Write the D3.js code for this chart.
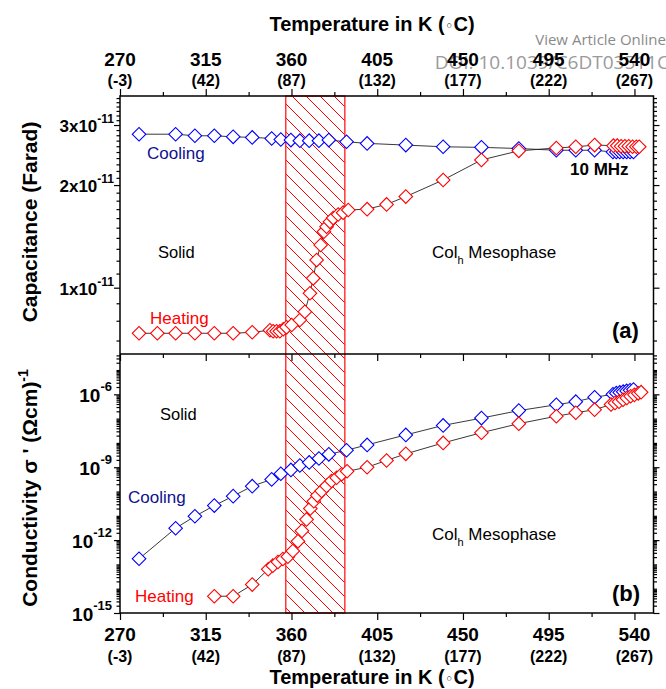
<!DOCTYPE html>
<html>
<head>
<meta charset="utf-8">
<script src="https://cdn.jsdelivr.net/npm/d3@7"></script>
<style>
  body { margin: 0; background: #fff; }
  text { font-family: "Liberation Sans", Arial, sans-serif; }
</style>
</head>
<body>
<div id="chart"></div>
<script>
// cooling run temperatures (K), same steps in both panels
const coolT = [280, 299.2, 309.3, 319.5, 329.4, 339.4, 349.6, 354.4, 359.7, 364.4, 369.3, 374.4, 379.6, 388.9,
    399.7, 420, 439.6, 459.7, 479.3, 499, 509.2, 519.1, 528.7, 530.5, 532.3, 534.1, 535.9, 537.7, 539.5];
// (a) capacitance, Farad
const capCool = [2.82e-11, 2.82e-11, 2.79e-11, 2.79e-11, 2.77e-11, 2.76e-11, 2.74e-11, 2.72e-11, 2.71e-11, 2.70e-11,
    2.70e-11, 2.70e-11, 2.71e-11, 2.68e-11, 2.65e-11, 2.62e-11, 2.59e-11, 2.58e-11, 2.56e-11, 2.53e-11, 2.53e-11,
    2.53e-11, 2.50e-11, 2.50e-11, 2.50e-11, 2.50e-11, 2.50e-11, 2.50e-11, 2.50e-11];
const heatTa = [280, 289.6, 299.2, 309.3, 319.5, 329.4, 339.4, 348.7, 350.4, 352.2, 353.9, 355.7, 357.4, 360.1,
    364.4, 367, 369.7, 371.4, 373.2, 375.3, 377, 378.4, 380.2, 381.9, 384.5, 387.1, 389.8,
    399.7, 409.9, 420, 439.6, 459.7, 479.3, 499, 509.2, 519.1, 529, 531, 533, 535, 537, 539, 541, 542.5];
const capHeat = [7.35e-12, 7.35e-12, 7.35e-12, 7.35e-12, 7.35e-12, 7.35e-12, 7.4e-12, 7.5e-12, 7.45e-12, 7.45e-12,
    7.45e-12, 7.55e-12, 7.65e-12, 7.77e-12, 8.04e-12, 8.5e-12, 9.63e-12, 1.065e-11, 1.205e-11, 1.334e-11, 1.46e-11,
    1.51e-11, 1.56e-11, 1.60e-11, 1.64e-11, 1.66e-11, 1.69e-11,
    1.70e-11, 1.755e-11, 1.85e-11, 2.07e-11, 2.37e-11, 2.52e-11, 2.57e-11, 2.59e-11, 2.62e-11,
    2.61e-11, 2.61e-11, 2.60e-11, 2.60e-11, 2.60e-11, 2.59e-11, 2.59e-11, 2.59e-11];
// (b) conductivity, (Ohm cm)^-1
const condCool = [1.70e-13, 3.09e-12, 9.55e-12, 2.63e-11, 6.46e-11, 1.66e-10, 3.16e-10, 5.37e-10, 7.76e-10, 1.17e-9,
    1.58e-9, 2.29e-9, 3.39e-9, 5.01e-9, 8.3e-9, 2.14e-8, 5.25e-8, 1.05e-7, 2.14e-7, 3.72e-7, 5.0e-7, 7.6e-7,
    1.0e-6, 1.12e-6, 1.2e-6, 1.29e-6, 1.38e-6, 1.48e-6, 1.58e-6];
const heatTb = [319.5, 329.4, 339.4, 347.8, 350.2, 352.9, 355.5, 358.1, 360.7, 363.4, 365.5, 367.9, 369.9, 371.7,
    373.6, 375.8, 378.4, 381, 383.7, 386.3, 389.2, 399.7, 409.9, 420, 439.6, 459.7, 479.3, 499, 509.2, 519.1,
    527.7, 529.8, 531.9, 534, 536, 538, 540, 542, 543.5];
const condHeat = [4.9e-15, 4.9e-15, 1.48e-14, 6.3e-14, 8.9e-14, 1.26e-13, 1.66e-13, 2.09e-13, 3.55e-13, 8.9e-13,
    2.4e-12, 7.1e-12, 2.0e-11, 4.0e-11, 6.8e-11, 1.05e-10, 1.7e-10, 2.7e-10, 3.7e-10, 5.1e-10, 6.8e-10,
    1.0e-9, 1.9e-9, 3.55e-9, 1.0e-8, 2.63e-8, 6.2e-8, 1.26e-7, 1.74e-7, 2.34e-7,
    3.8e-7, 4.4e-7, 5.0e-7, 6.0e-7, 7.1e-7, 8.3e-7, 9.5e-7, 1.1e-6, 1.23e-6];

const tickK = [270, 315, 360, 405, 450, 495, 540];
const tickC = ["(-3)", "(42)", "(87)", "(132)", "(177)", "(222)", "(267)"];
const capTicks = [1e-11, 2e-11, 3e-11];
const capMant = ["1", "2", "3"];
const condTicks = [1e-6, 1e-9, 1e-12, 1e-15];
const condExp = ["-6", "-9", "-12", "-15"];
const transition = [357, 388];   // hatched region, K

const W = 666, H = 689;
const left = 120, right = 653.5, topA = 96, mid = 354, bottomB = 613;

const svg = d3.select("#chart").append("svg")
    .attr("width", W).attr("height", H);

const x = d3.scaleLinear().domain([270, 550]).range([left, right]);
const yA = d3.scaleLog().domain([6.39e-12, 3.65e-11]).range([mid, topA]);
const yB = d3.scaleLog().domain([1e-15, 4.57e-5]).range([bottomB, mid]);

// watermark
svg.append("text").attr("x", 666).attr("y", 45).attr("text-anchor", "end")
    .attr("font-size", 15).attr("fill", "#8a8a8a").style("font-family", "'Open Sans', sans-serif")
    .text("View Article Online");
svg.append("text").attr("x", 669).attr("y", 69).attr("text-anchor", "end")
    .attr("font-size", 19).attr("fill", "#9a9a9a").style("font-family", "'Open Sans', sans-serif")
    .text("DOI: 10.1039/C6DT03511C");

// hatch pattern for transition region
const pat = svg.append("defs").append("pattern")
    .attr("id", "hatch").attr("patternUnits", "userSpaceOnUse")
    .attr("width", 14).attr("height", 14);
pat.append("path")
    .attr("d", "M-1,-1L15,15M-1,13L1,15M13,-1L15,1")
    .attr("stroke", "#ff0000").attr("stroke-width", 1);

svg.append("rect")
    .attr("x", x(transition[0])).attr("y", topA)
    .attr("width", x(transition[1]) - x(transition[0]))
    .attr("height", bottomB - topA)
    .attr("fill", "url(#hatch)")
    .attr("stroke", "#ff2a2a").attr("stroke-width", 1.4);

// x ticks (major + midway minor) on top, divider and bottom
const minorK = tickK.slice(0, -1).map(d => d + 22.5);
function xTicks(yPos, axisFn) {
    svg.append("g").attr("transform", `translate(0,${yPos})`)
        .call(axisFn(x).tickValues(tickK).tickSize(7).tickFormat(""))
        .call(g => g.select(".domain").remove());
    svg.append("g").attr("transform", `translate(0,${yPos})`)
        .call(axisFn(x).tickValues(minorK).tickSize(4).tickFormat(""))
        .call(g => g.select(".domain").remove());
}
xTicks(topA, d3.axisTop);
xTicks(mid, d3.axisBottom);
xTicks(bottomB, d3.axisBottom);

// y ticks both sides
function yTicks(y, major, minor) {
    [[left, d3.axisLeft], [right, d3.axisRight]].forEach(([xp, fn]) => {
        svg.append("g").attr("transform", `translate(${xp},0)`)
            .call(fn(y).tickValues(major).tickSize(6).tickFormat(""))
            .call(g => g.select(".domain").remove());
        svg.append("g").attr("transform", `translate(${xp},0)`)
            .call(fn(y).tickValues(minor).tickSize(3.5).tickFormat(""))
            .call(g => g.select(".domain").remove());
    });
}
yTicks(yA, capTicks, d3.range(7, 37).filter(k => k % 10 !== 0).map(k => k * 1e-12));
const condMinor = [];
d3.range(-15, -4).forEach(e => d3.range(1, 10).forEach(k => {
    const v = k * Math.pow(10, e);
    if (v < 4.5e-5 && !(k === 1 && e % 3 === 0)) condMinor.push(v);
}));
yTicks(yB, condTicks, condMinor);

svg.selectAll(".tick line").attr("stroke", "#000").attr("stroke-width", 1.2);

// frames
svg.append("rect").attr("x", left).attr("y", topA).attr("width", right - left).attr("height", bottomB - topA)
    .attr("fill", "none").attr("stroke", "#000").attr("stroke-width", 1.5);
svg.append("line").attr("x1", left).attr("x2", right).attr("y1", mid).attr("y2", mid)
    .attr("stroke", "#000").attr("stroke-width", 1.5);

// data
function series(y, xs, ys, color) {
    const pts = xs.map((t, i) => [t, ys[i]]);
    svg.append("path").datum(pts)
        .attr("fill", "none").attr("stroke", "#222").attr("stroke-width", 0.9)
        .attr("d", d3.line().x(d => x(d[0])).y(d => y(d[1])));
    svg.append("g").selectAll("path").data(pts).join("path")
        .attr("transform", d => `translate(${x(d[0])},${y(d[1])}) rotate(45)`)
        .attr("d", d3.symbol(d3.symbolSquare, 92))
        .attr("fill", "#fff").attr("stroke", color).attr("stroke-width", 1.1);
}
series(yA, coolT, capCool, "#0000ff");
series(yA, heatTa, capHeat, "#ff0000");
series(yB, coolT, condCool, "#0000ff");
series(yB, heatTb, condHeat, "#ff0000");

// x tick labels
tickK.forEach((k, i) => {
    [[66, 86], [641, 662]].forEach(([yn, yc]) => {
        svg.append("text").attr("x", x(k)).attr("y", yn).attr("text-anchor", "middle")
            .attr("font-weight", "bold").attr("font-size", 19).text(k);
        svg.append("text").attr("x", x(k)).attr("y", yc).attr("text-anchor", "middle")
            .attr("font-weight", "bold").attr("font-size", 16).text(tickC[i]);
    });
});

// axis titles
[31, 684].forEach(yp => {
    const t = svg.append("text").attr("x", 372).attr("y", yp).attr("text-anchor", "middle")
        .attr("font-weight", "bold").attr("font-size", 20);
    t.append("tspan").text("Temperature in K (");
    t.append("tspan").attr("font-size", 15).attr("font-weight", "normal")
        .style("font-family", "'DejaVu Sans', sans-serif").text("\u25E6");
    t.append("tspan").text("C)");
});

svg.append("text").attr("transform", "translate(37,222) rotate(-90)")
    .attr("text-anchor", "middle").attr("font-weight", "bold").attr("font-size", 21)
    .text("Capacitance (Farad)");
const ct = svg.append("text").attr("transform", "translate(37,488) rotate(-90)")
    .attr("text-anchor", "middle").attr("font-weight", "bold").attr("font-size", 21);
ct.append("tspan").text("Conductivity \u03C3 ' (\u03A9cm)");
ct.append("tspan").attr("font-size", 14).attr("dy", -9).text("-1");

// y tick labels
capTicks.forEach((v, i) => {
    const t = svg.append("text").attr("x", 114).attr("y", yA(v) + 7).attr("text-anchor", "end")
        .attr("font-weight", "bold").attr("font-size", 17);
    t.append("tspan").text(capMant[i] + "x10");
    t.append("tspan").attr("font-size", 12).attr("dy", -9).text("-11");
});
condTicks.forEach((v, i) => {
    const t = svg.append("text").attr("x", 112).attr("y", yB(v) + 8).attr("text-anchor", "end")
        .attr("font-weight", "bold").attr("font-size", 19);
    t.append("tspan").text("10");
    t.append("tspan").attr("font-size", 13).attr("dy", -11).text(condExp[i]);
});

// annotations
function note(xp, yp, txt, opts = {}) {
    return svg.append("text").attr("x", xp).attr("y", yp)
        .attr("font-size", opts.size || 17).attr("fill", opts.color || "#000")
        .attr("font-weight", opts.bold ? "bold" : "normal").text(txt);
}
function colh(xp, yp) {
    const t = svg.append("text").attr("x", xp).attr("y", yp).attr("font-size", 17);
    t.append("tspan").text("Col");
    t.append("tspan").attr("font-size", 11).attr("dy", 6).text("h");
    t.append("tspan").attr("dy", -6).text(" Mesophase");
}
note(147, 159, "Cooling", { color: "#10108f" });
note(150, 324, "Heating", { color: "#ff0000" });
note(158, 258, "Solid", { size: 16.5 });
colh(432, 258);
note(570, 175, "10 MHz", { bold: true });
note(612, 338, "(a)", { bold: true, size: 22 });

note(160, 420, "Solid", { size: 16.5 });
note(128, 503, "Cooling", { color: "#10108f" });
note(135, 602, "Heating", { color: "#ff0000" });
colh(432, 540);
note(612, 601, "(b)", { bold: true, size: 22 });
</script>
</body>
</html>
